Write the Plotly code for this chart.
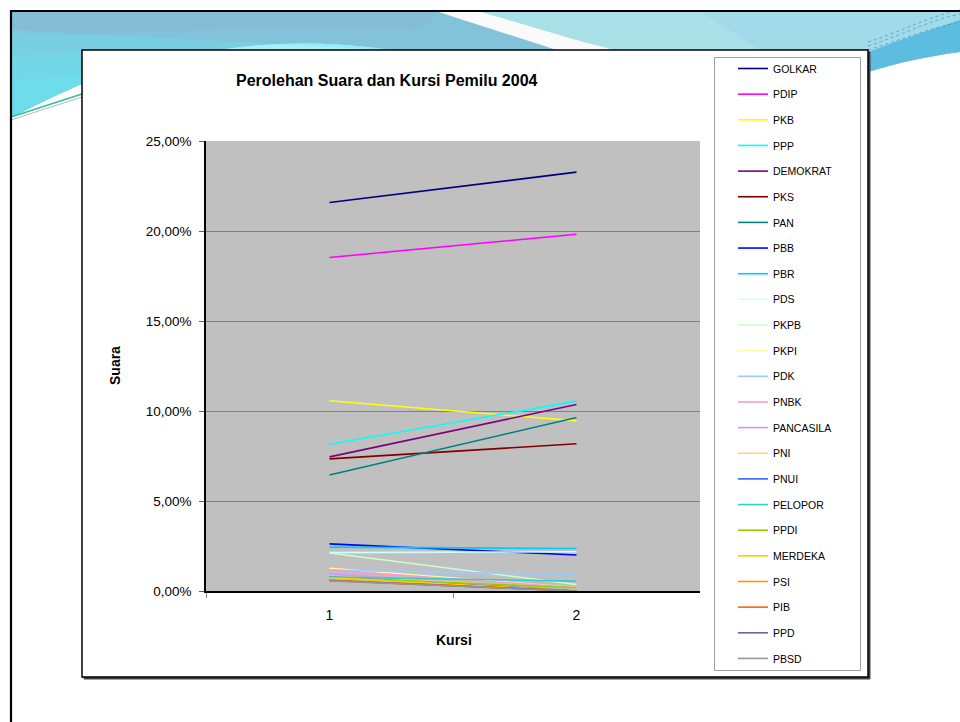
import plotly.graph_objects as go

W, H = 960, 722

parties = ["GOLKAR", "PDIP", "PKB", "PPP", "DEMOKRAT", "PKS", "PAN", "PBB", "PBR", "PDS",
           "PKPB", "PKPI", "PDK", "PNBK", "PANCASILA", "PNI", "PNUI", "PELOPOR", "PPDI",
           "MERDEKA", "PSI", "PIB", "PPD", "PBSD"]
suara = [0.2158, 0.1853, 0.1057, 0.0815, 0.0745, 0.0734, 0.0644, 0.0262, 0.0244, 0.0213,
         0.0211, 0.0126, 0.0116, 0.0116, 0.0095, 0.0081, 0.0079, 0.0077, 0.0075,
         0.0074, 0.0060, 0.0059, 0.0058, 0.0056]
kursi = [0.2327, 0.1982, 0.0945, 0.1055, 0.1036, 0.0818, 0.0964, 0.0200, 0.0236, 0.0218,
         0.0036, 0.0018, 0.0091, 0.0018, 0.0000, 0.0018, 0.0000, 0.0055, 0.0018,
         0.0000, 0.0000, 0.0000, 0.0000, 0.0000]
categories = ["1", "2"]
colors = ["#000080", "#FF00FF", "#FFFF00", "#00FFFF", "#800080", "#800000", "#008080",
          "#0000FF", "#00CCFF", "#CCFFFF", "#CCFFCC", "#FFFF99", "#99CCFF", "#FF99CC",
          "#CC99FF", "#FFCC99", "#3366FF", "#33CCCC", "#99CC00", "#FFCC00", "#FF9900",
          "#FF6600", "#666699", "#969696"]

FONT = "Liberation Sans, Arial, sans-serif"


def px(x):
    return x / W


def py(y):
    return 1 - y / H


def path(cmds):
    out = []
    for c in cmds:
        if isinstance(c, str):
            out.append(c)
        else:
            out.append(f"{px(c[0]):.5f},{py(c[1]):.5f}")
    return " ".join(out)


fig = go.Figure()
for name, s, k, c in zip(parties, suara, kursi, colors):
    fig.add_trace(go.Scatter(
        x=categories, y=[s, k], mode="lines", name=name, legendgroup=name,
        line=dict(color=c, width=1.6), hoverinfo="skip"))

shapes = []


def pshape(cmds, fill, opacity=1.0, line_color=None, line_width=0):
    shapes.append(dict(type="path", xref="paper", yref="paper", path=path(cmds),
                       fillcolor=fill, opacity=opacity, layer="below",
                       line=dict(color=line_color or fill, width=line_width)))


LOWER = ["L", (390, 50), "C", (350, 44), (300, 41), (250, 46),
         "C", (180, 54), (110, 70), (82, 84), "C", (50, 98), (30, 108), (11, 118), "Z"]

# base band
pshape(["M", (11, 11), "L", (960, 11), "L", (960, 52), "C", (930, 56), (900, 62), (868, 72),
        "L", (868, 50)] + LOWER, "#82c3d9")
# top-left steel tint
pshape(["M", (11, 11), "L", (440, 11), "L", (420, 30), "C", (300, 26), (150, 30), (11, 38), "Z"],
       "#86bbd2", 0.7)
# cyan tint toward bottom-left
for t in (30, 55, 80):
    pshape(["M", (11, t), "L", (390, 50)] + LOWER[2:], "#66e4f0", 0.35)
# right of stripe lighter
pshape(["M", (478, 11), "L", (960, 11), "L", (960, 52), "C", (930, 56), (900, 62), (868, 72),
        "L", (868, 50), "L", (612, 50), "Z"], "#aae0e8")
pshape(["M", (700, 11), "L", (960, 11), "L", (960, 40), "L", (868, 50), "L", (760, 50), "Z"],
       "#9fd6ea", 0.6)
# white stripe
pshape(["M", (436, 11), "L", (478, 11), "C", (530, 26), (575, 40), (614, 50), "L", (556, 50),
        "C", (520, 38), (475, 24), (436, 11), "Z"], "#fafafa")
# right dark streak
pshape(["M", (868, 52), "C", (900, 40), (930, 30), (960, 20), "L", (960, 52),
        "C", (930, 56), (900, 62), (868, 72), "Z"], "#5cbde0")
# thin streak lines at right
for (a, b) in ((46, 14), (42, 10), (50, 22)):
    shapes.append(dict(type="path", xref="paper", yref="paper", layer="below",
                       path=path(["M", (868, a), "C", (900, a - 10), (930, b + 6), (960, b)]),
                       line=dict(color="#3ea2cc", width=0.8, dash="dot")))
# teal line on left wave
shapes.append(dict(type="line", xref="paper", yref="paper", layer="below",
                   x0=px(11), y0=py(117), x1=px(82), y1=py(94),
                   line=dict(color="#2fc0a0", width=1.5)))
shapes.append(dict(type="line", xref="paper", yref="paper", layer="below",
                   x0=px(11), y0=py(120), x1=px(82), y1=py(97),
                   line=dict(color="#b8b8b8", width=1)))
# slide border
shapes.append(dict(type="rect", xref="paper", yref="paper", layer="below",
                   x0=px(11), y0=py(11), x1=px(964), y1=py(726),
                   line=dict(color="#000000", width=2.2)))
# chart box shadow + box
shapes.append(dict(type="rect", xref="paper", yref="paper", layer="below",
                   x0=px(84), y0=py(52), x1=px(870), y1=py(679),
                   fillcolor="#404040", line=dict(color="#404040", width=1)))
shapes.append(dict(type="rect", xref="paper", yref="paper", layer="below",
                   x0=px(82), y0=py(50), x1=px(868), y1=py(677),
                   fillcolor="#ffffff", line=dict(color="#000000", width=1.5)))
# plot area
shapes.append(dict(type="rect", xref="x domain", yref="y domain", layer="below",
                   x0=0, y0=0, x1=1, y1=1, fillcolor="#c0c0c0", line=dict(width=0)))
# legend box
shapes.append(dict(type="rect", xref="paper", yref="paper", layer="below",
                   x0=px(714.5), y0=py(57.5), x1=px(860.5), y1=py(670.5),
                   fillcolor="#ffffff", line=dict(color="#a0a0a0", width=1)))

annotations = [
    dict(text="<b>Perolehan Suara dan Kursi Pemilu 2004</b>", xref="paper", yref="paper",
         x=px(386.5), y=py(80), xanchor="center", yanchor="middle", showarrow=False,
         font=dict(family=FONT, size=16, color="#000000")),
    dict(text="<b>Suara</b>", xref="paper", yref="paper", x=px(115), y=py(366),
         xanchor="center", yanchor="middle", textangle=-90, showarrow=False,
         font=dict(family=FONT, size=14, color="#000000")),
    dict(text="<b>Kursi</b>", xref="paper", yref="paper", x=px(454), y=py(640),
         xanchor="center", yanchor="middle", showarrow=False,
         font=dict(family=FONT, size=14, color="#000000")),
]

fig.update_layout(
    width=W, height=H,
    margin=dict(l=0, r=0, t=0, b=0),
    paper_bgcolor="#ffffff", plot_bgcolor="#c0c0c0",
    separators=",.",
    font=dict(family=FONT, size=14, color="#000000"),
    shapes=shapes, annotations=annotations,
    showlegend=True,
    legend=dict(x=px(733), y=py(54), xanchor="left", yanchor="top",
                bgcolor="rgba(0,0,0,0)", borderwidth=0, tracegroupgap=6.65,
                font=dict(family=FONT, size=10.5, color="#000000"), itemwidth=30),
    xaxis=dict(domain=[px(206), px(700)], type="category", range=[-0.5, 1.5],
               showgrid=False, showline=True, linecolor="#000000", linewidth=1.5,
               ticks="outside", tickson="boundaries", ticklen=5, tickcolor="#808080",
               ticklabelstandoff=10, automargin=False, zeroline=False,
               tickfont=dict(family=FONT, size=14, color="#000000")),
    yaxis=dict(domain=[py(591), py(141)], range=[0, 0.25], dtick=0.05, tickformat=".2%",
               showgrid=True, gridcolor="#808080", gridwidth=1,
               showline=True, linecolor="#000000", linewidth=1.5,
               ticks="outside", ticklen=5, tickcolor="#606060", ticklabelstandoff=5,
               automargin=False, zeroline=False,
               tickfont=dict(family=FONT, size=13.5, color="#000000")),
)

fig.write_html("out.html", config={"displayModeBar": False},
               post_script="document.body.style.margin='0px';"
                           "document.body.style.overflow='hidden';")
